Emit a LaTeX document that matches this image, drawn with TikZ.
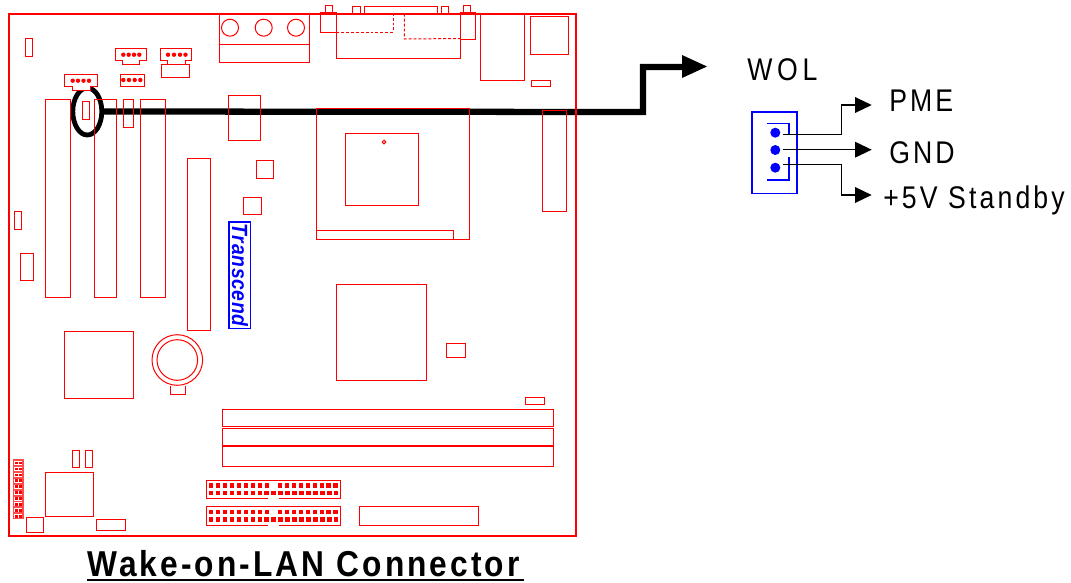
\documentclass[tikz,border=0pt]{standalone}
\usepackage{fontspec}
\usetikzlibrary{shapes.geometric,backgrounds,calc}
\setmainfont{Liberation Sans}
\newfontfamily\lblfont[FakeStretch=0.85,LetterSpace=10]{Liberation Sans}
\newfontfamily\wolfont[FakeStretch=0.85,LetterSpace=15]{Liberation Sans}
\newfontfamily\stbfont[FakeStretch=0.85,LetterSpace=10]{Liberation Sans}
\newfontfamily\ttlfont[FakeStretch=0.88,LetterSpace=8.6]{Liberation Sans}
\newfontfamily\logofont[FakeStretch=0.88,LetterSpace=3]{Liberation Sans}
\definecolor{pcbred}{RGB}{255,0,0}
\definecolor{conblue}{RGB}{0,0,255}
\newcommand\bx[4]{\draw[pcb] (#1,-#2) rectangle (#3,-#4);}
\newcommand\pin[2]{\fill[pcbred] (#1,-#2) circle (2.2);}
\newcommand\sq[2]{\fill[pcbred] (#1-2.2,-#2-2.2) rectangle (#1+2.2,-#2+2.2);}
\tikzset{
 pcb/.style={draw=pcbred,line width=0.75pt},
 pcbdash/.style={pcb,dash pattern=on 2.2pt off 1.5pt},
 fan/.style={pcb,fill=white},
 lead/.style={draw=black,line width=0.9pt},
 conline/.style={draw=conblue,line width=1.2pt},
 pindot/.style={circle,fill=conblue,minimum size=10*0.75pt,inner sep=0pt},
 lbl/.style={inner sep=0pt,anchor=base west,text=black},
}
\begin{document}
\begin{tikzpicture}[x=0.75pt,y=0.75pt]
\useasboundingbox (0,0) rectangle (1071,-582);
% wake-on-lan ring
\node[ellipse,draw=black,line width=3.6pt,minimum width=29*0.75pt,minimum height=47*0.75pt,inner sep=0pt,outer sep=0pt] (ring) at (87.3,-111.5) {};
% board outline
\draw[draw=pcbred,line width=1.5pt] (8.7,-13.7) rectangle (576,-535.7);
\bx{25}{38}{32}{56}
% fan connectors
\draw[fan] (115.3,-48.7)--(146.7,-48.7)--(146.7,-60.3)--(139.5,-60.3)--(139.5,-64)--(122,-64)--(122,-60.3)--(115.3,-60.3)--cycle;
\foreach \x in {123.3,128.7,134,139.3} {\pin{\x}{54.7}}
\draw[fan] (160.3,-48.7)--(191.7,-48.7)--(191.7,-60.3)--(185,-60.3)--(185,-64)--(167,-64)--(167,-60.3)--(160.3,-60.3)--cycle;
\foreach \x in {168,174,180,185.5} {\pin{\x}{54.7}}
\bx{161.3}{64}{189.7}{77.3}
\draw[fan] (64,-74.7)--(97.5,-74.7)--(97.5,-86.5)--(90.5,-86.5)--(90.5,-90.5)--(72,-90.5)--(72,-86.5)--(64,-86.5)--cycle;
\foreach \x in {72.7,78,83.5,89} {\pin{\x}{80.7}}
\bx{120.3}{74.7}{144.3}{86.7}
\foreach \x in {123.3,129,134.7,140.3} {\pin{\x}{80}}
% slots
\bx{45.3}{99}{70}{297}
\bx{94}{99}{116.7}{297}
\bx{140}{99}{165.3}{297}
\bx{123.3}{99.3}{133.3}{127.3}
\bx{82.7}{101.7}{89.3}{119.3}
\bx{228.3}{95.7}{260.3}{140.3}
\bx{187.5}{158.7}{210.3}{330.7}
\bx{256.7}{160.7}{273.3}{178}
\bx{243}{197}{261}{214}
% audio stack
\draw[pcb] (219.7,-15)--(219.7,-62.3)--(309.3,-62.3)--(309.3,-15);
\draw[pcb] (219.7,-44.3)--(309.3,-44.3);
\foreach \x in {230,263.7,296} {\draw[pcb] (\x,-27.7) circle (8.5);}
% rear ports
\bx{320}{12.7}{336}{32.3}
\bx{336}{13.7}{460.3}{58.3}
\draw[pcbdash] (336,-32.3)--(393.3,-32.3)--(393.3,-13.7);
\draw[pcbdash] (404.3,-13.7)--(404.3,-39)--(460.3,-38.5);
\bx{460.3}{12.7}{475}{39.3}
\bx{325}{5.7}{332.7}{12.7}
\bx{352.3}{6.3}{360}{13}
\bx{364}{6.3}{437.7}{13}
\bx{441}{6.3}{448.3}{13}
\bx{463.3}{5.7}{470.7}{12.7}
\bx{480}{14}{524.3}{80.7}
\bx{530.3}{16.3}{568.3}{54.3}
\bx{531.3}{80.7}{550}{86.3}
\bx{542.3}{110.3}{566.7}{211}
% cpu
\bx{316}{108.7}{469.5}{239}
\bx{345}{133}{418}{205}
\draw[pcb] (384,-142) circle (1.8);
\draw[pcb] (316,-230)--(453,-230)--(453,-239);
% left parts
\bx{14}{211}{21}{229}
\bx{20}{253}{33}{280}
\bx{64}{331}{133}{398}
\draw[pcb] (177.3,-360) circle (25.3);
\draw[pcb] (177.3,-360) circle (20.3);
\draw[pcb] (170,-386)--(170,-394)--(185,-394)--(185,-386);
% logo
\node[draw=conblue,line width=0.9pt,fill=white,minimum width=21.3*0.75pt,minimum height=106.3*0.75pt,inner sep=0pt] (logobox) at (239.7,-275.2) {};
\node[rotate=-90,anchor=base west,text=conblue,inner sep=0pt,font=\fontsize{16.5}{18}\bfseries\itshape\logofont] (logo) at (232,-223.5) {Transcend};
% chipset
\bx{336}{284}{426}{380}
\bx{446}{343}{465}{357}
\bx{525}{397}{544}{404}
% dimms
\bx{222}{409}{553.3}{426.7}
\bx{222}{428}{553.3}{445}
\bx{222}{446.7}{553.3}{466.7}
% bottom left
\bx{72.7}{450}{79.3}{467.7}
\bx{85.7}{450}{92.3}{467.7}
\bx{45.3}{472.7}{93}{516}
\bx{26.3}{517.7}{43.7}{532.3}
\bx{96}{519}{125}{530.7}
% front panel header
\fill[pcbred!70] (12.5,-459.3) rectangle (24,-519.3);
\foreach \y in {0,...,9} {
 \fill[white] ($(14.2,-460.8)+(0,-\y*5.95)$) rectangle ++(8.2,-4);
 \fill[pcbred] ($(15.2,-461.6)+(0,-\y*5.95)$) rectangle ++(2.7,-2.4);
 \fill[pcbred] ($(19,-461.6)+(0,-\y*5.95)$) rectangle ++(2.7,-2.4);
}
% IDE
\draw[pcb] (268,-498.7)--(206,-498.7)--(206,-480)--(340,-480)--(340,-498.7)--(278.7,-498.7);
\draw[pcb] (268,-525.3)--(206,-525.3)--(206,-506.7)--(340.7,-506.7)--(340.7,-525.3)--(278.7,-525.3);
\foreach \i in {0,...,8} {\sq{211+\i*7}{485.3} \sq{211+\i*7}{512}}
\foreach \i in {0,...,8} {\sq{280+\i*6.95}{485.3} \sq{280+\i*6.95}{512}}
\foreach \i in {0,...,18} {\sq{211+\i*6.96}{493} \sq{211+\i*6.96}{519.5}}
\bx{359}{506.3}{478.7}{525}
% callout
\coordinate (bend1) at (643,-112);
\coordinate (bend2) at (643,-67);
\coordinate (tipend) at (684,-67);
\begin{scope}[on background layer]
\draw[black,line width=4.7pt,miter limit=10] (ring.east) -- (bend1) -- (bend2) -- (tipend);
\end{scope}
\fill[black] (682,-55)--(707,-66.5)--(682,-78)--cycle;
% WOL connector
\draw[conline] (751.7,-111.7) rectangle (797,-193.3);
\draw[conline] (766.7,-123.3)--(788.7,-123.3)--(788.7,-135);
\draw[conline] (788.7,-157.3)--(788.7,-180)--(766.7,-180);
\node[pindot] (p1) at (775.3,-132.7) {};
\node[pindot] (p2) at (775.3,-150) {};
\node[pindot] (p3) at (775.3,-167.7) {};
\coordinate (a1) at (857,-105);
\coordinate (a2) at (857,-149.7);
\coordinate (a3) at (857,-195);
\draw[lead] (782.5,-134.3) -| (841.7,-105) -- (a1);
\draw[lead] (782.5,-149.7) -- (a2);
\draw[lead] (782.5,-164.7) -| (841.7,-195) -- (a3);
\foreach \c in {a1,a2,a3} {\fill[black] ($(\c)+(-2,8)$) -- ($(\c)+(14.7,0)$) -- ($(\c)+(-2,-8)$) -- cycle;}
\node[lbl,font=\fontsize{23.5}{26}\wolfont] (wol) at (747,-80) {WOL};
\node[lbl,font=\fontsize{23.5}{26}\lblfont] (pme) at (889,-111) {PME};
\node[lbl,font=\fontsize{23.5}{26}\lblfont] (gnd) at (889,-163) {GND};
\node[lbl,font=\fontsize{23.5}{26}\stbfont] (stb) at (883,-208.5) {+5V Standby};
\node[lbl,font=\fontsize{27}{30}\bfseries\ttlfont] (title) at (87,-576) {Wake-on-LAN Connector};
\coordinate (ulA) at (87,-580);
\coordinate (ulB) at (524,-580);
\draw[black,line width=1.7pt] (ulA)--(ulB);
\end{tikzpicture}
\end{document}
